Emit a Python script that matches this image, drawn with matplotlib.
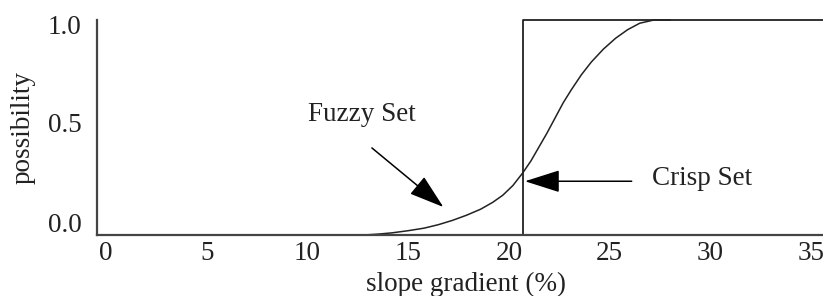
import matplotlib.pyplot as plt
import matplotlib.transforms as mtransforms

# fuzzy membership curve
fuzzy_x = [12.8, 13.5, 14.2, 15.0, 15.8, 16.5, 17.2, 17.9, 18.6, 19.2, 19.7, 20.2,
           20.7, 21.1, 21.5, 21.9, 22.3, 22.7, 23.1, 23.6, 24.1, 24.7, 25.3,
           25.9, 26.5, 27.2, 28.0]
fuzzy_y = [0.0, 0.004, 0.010, 0.020, 0.032, 0.048, 0.068, 0.092, 0.120, 0.152,
           0.185, 0.230, 0.290, 0.345, 0.410, 0.475, 0.545, 0.615, 0.675,
           0.745, 0.805, 0.865, 0.915, 0.955, 0.985, 1.0, 1.0]

# crisp set step
crisp_x = [20.7, 20.7, 36.0]
crisp_y = [0.0, 1.0, 1.0]

xticks = [0, 5, 10, 15, 20, 25, 30, 35]
yticks = [0.0, 0.5, 1.0]
ytick_labels = ['0.0', '0.5', '1.0']

plt.rcParams['font.family'] = ['Liberation Serif', 'DejaVu Serif']
FS = 19.5

fig = plt.figure(figsize=(8.23, 2.96), dpi=100)
ax = fig.add_axes([97 / 823, 1 - 235 / 296, 1 - 97 / 823, 215 / 296])

ax.plot(fuzzy_x, fuzzy_y, color='#222222', lw=1.1, clip_on=False)
ax.plot(crisp_x, crisp_y, color='#222222', lw=1.3, clip_on=False)

ax.set_xlim(-0.45, 35.6)
ax.set_ylim(0, 1)
ax.set_xticks(xticks)
ax.set_xticklabels([str(t) for t in xticks])
ax.set_yticks(yticks)
ax.set_yticklabels(ytick_labels)
ax.tick_params(length=0, labelsize=FS, colors='#222222')
ax.tick_params(axis='x', pad=4)
ax.tick_params(axis='y', pad=11)

# y labels sit a little inside the range in the original
shifts = [13, 5, -5]
for lab, dy in zip(ax.get_yticklabels(), shifts):
    lab.set_transform(lab.get_transform() +
                      mtransforms.ScaledTranslation(0, dy / 100, fig.dpi_scale_trans))

for side in ['top', 'right']:
    ax.spines[side].set_visible(False)
for side in ['left', 'bottom']:
    ax.spines[side].set_linewidth(1.6)
    ax.spines[side].set_color('#444444')

ax.set_xlabel('slope gradient (%)', fontsize=FS, color='#222222')
ax.xaxis.set_label_coords(0.508, -0.17)
ax.set_ylabel('possibility', fontsize=FS, labelpad=9, color='#222222')

arrow_style = dict(arrowstyle='-|>,head_length=2.2,head_width=0.7',
                   color='black', lw=1.1, shrinkA=0, shrinkB=0)
ax.annotate('', xy=(16.75, 0.13), xytext=(13.2, 0.405), arrowprops=arrow_style)
ax.annotate('', xy=(20.8, 0.25), xytext=(26.1, 0.25), arrowprops=arrow_style)

ax.text(12.7, 0.56, 'Fuzzy Set', fontsize=FS, ha='center', va='center', color='#222222')
ax.text(29.6, 0.265, 'Crisp Set', fontsize=FS, ha='center', va='center', color='#222222')

fig.savefig('out.png', dpi=100)
